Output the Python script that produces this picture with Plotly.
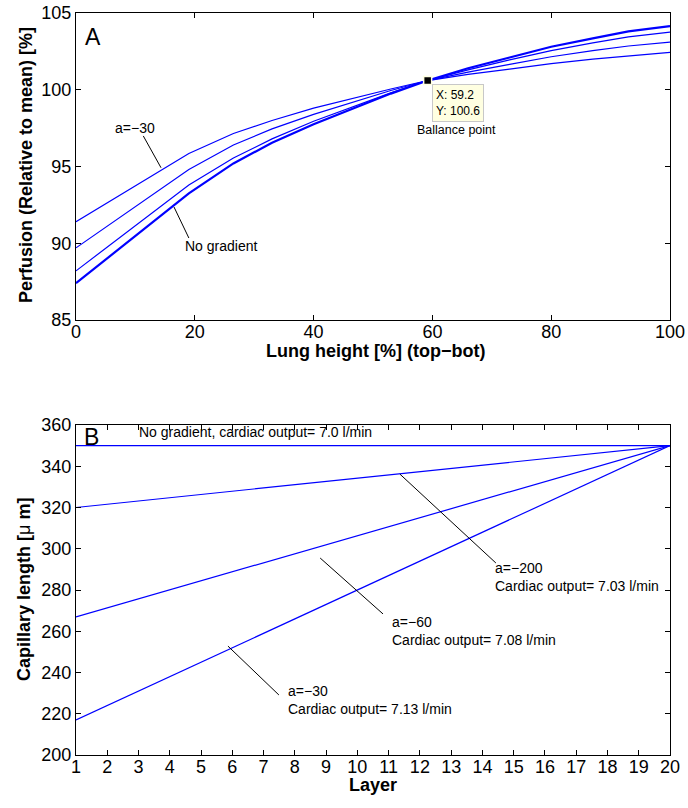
import plotly.graph_objects as go

# ---------------- data ----------------
# Panel A: perfusion vs lung height
height_pct = [0, 19, 26.5, 33, 40, 47, 53, 59.2, 66, 73, 80, 87, 93, 100]
perf_a30 = [91.4, 95.85, 97.15, 98.0, 98.8, 99.5, 100.05, 100.6, 101.0, 101.35, 101.7, 102.0, 102.22, 102.44]
perf_a60 = [89.7, 94.8, 96.4, 97.45, 98.4, 99.25, 99.95, 100.6, 101.15, 101.65, 102.15, 102.55, 102.85, 103.1]
perf_a200 = [88.2, 93.8, 95.55, 96.8, 97.95, 98.95, 99.8, 100.6, 101.3, 101.95, 102.55, 103.05, 103.45, 103.75]
perf_nograd = [87.4, 93.25, 95.2, 96.55, 97.75, 98.85, 99.75, 100.6, 101.4, 102.1, 102.8, 103.35, 103.8, 104.15]
balance_x = [59.2]
balance_y = [100.6]

# Panel B: capillary length vs layer
layer_ends = [1, 20]
cap_nograd = [350, 350]
cap_a200 = [320, 350]
cap_a60 = [267, 350]
cap_a30 = [217, 350]

xticks_a = [0, 20, 40, 60, 80, 100]
yticks_a = [85, 90, 95, 100, 105]
xticks_b = list(range(1, 21))
yticks_b = [200, 220, 240, 260, 280, 300, 320, 340, 360]

FONT = "Liberation Sans, Arial, Helvetica, sans-serif"
BLUE = "#0000ff"

fig = go.Figure()

for ys, w in [(perf_a30, 1.2), (perf_a60, 1.2), (perf_a200, 1.2), (perf_nograd, 2.2)]:
    fig.add_trace(go.Scatter(x=height_pct, y=ys, mode="lines",
                             line=dict(color=BLUE, width=w),
                             xaxis="x", yaxis="y", showlegend=False, hoverinfo="skip"))

fig.add_trace(go.Scatter(x=balance_x, y=balance_y, mode="markers",
                         marker=dict(symbol="square", size=8, color="black",
                                     line=dict(color="#ffffe1", width=1.5)),
                         xaxis="x", yaxis="y", showlegend=False, hoverinfo="skip"))

for ys in [cap_nograd, cap_a200, cap_a60, cap_a30]:
    fig.add_trace(go.Scatter(x=layer_ends, y=ys, mode="lines",
                             line=dict(color=BLUE, width=1.2),
                             xaxis="x2", yaxis="y2", showlegend=False, hoverinfo="skip"))

axis_common = dict(showgrid=False, zeroline=False, showline=True, linecolor="black",
                   linewidth=1, mirror="ticks", ticks="inside", ticklen=5,
                   tickcolor="black", tickwidth=1, automargin=False,
                   tickfont=dict(family=FONT, size=18, color="black"))

X0, X1 = 76 / 688, 670 / 688
fig.update_layout(
    template="none",
    width=688, height=808,
    margin=dict(l=0, r=0, t=0, b=0, autoexpand=False),
    paper_bgcolor="white", plot_bgcolor="white",
    font=dict(family=FONT, color="black"),
    xaxis=dict(domain=[X0, X1], range=[0, 100], tickvals=xticks_a, anchor="y",
               ticklabelstandoff=-5, **axis_common),
    yaxis=dict(domain=[1 - 320 / 808, 1 - 13 / 808], range=[85, 105], tickvals=yticks_a,
               anchor="x", **axis_common),
    xaxis2=dict(domain=[X0, X1], range=[1, 20], tickvals=xticks_b, anchor="y2",
                ticklabelstandoff=-5, **axis_common),
    yaxis2=dict(domain=[1 - 755 / 808, 1 - 425 / 808], range=[200, 360], tickvals=yticks_b,
                anchor="x2", **axis_common),
)


def paper_text(text, px, py, size, angle=0):
    return dict(text=text, xref="paper", yref="paper", x=px / 688, y=1 - py / 808,
                xanchor="center", yanchor="middle", textangle=angle, showarrow=False,
                font=dict(size=size, family=FONT))


ann = []
# axis titles
ann.append(paper_text("<b>Lung height [%] (top−bot)</b>", 375, 351, 18))
ann.append(paper_text("<b>Perfusion (Relative to mean) [%]</b>", 26, 165, 18, -90))
ann.append(paper_text("<b>Layer</b>", 373, 785, 18))
ann.append(paper_text("<b>Capillary length [</b>μ<b> m]</b>", 24, 590, 18, -90))
# panel letters
ann.append(paper_text("A", 93, 37, 23))
ann.append(paper_text("B", 91, 437, 23))
# panel A labels
ann.append(dict(text="a=−30", xref="x", yref="y", x=9.9, y=97.5, showarrow=False,
                xanchor="center", yanchor="middle", font=dict(size=14, family=FONT)))
ann.append(dict(text="No gradient", xref="x", yref="y", x=24.4, y=89.8, showarrow=False,
                xanchor="center", yanchor="middle", font=dict(size=14, family=FONT)))
ann.append(dict(text=f"X: {balance_x[0]}<br>Y: {balance_y[0]}", xref="x", yref="y",
                x=59.9, y=100.37, xanchor="left", yanchor="top", align="left",
                showarrow=False, bgcolor="#ffffe1", bordercolor="#c8c8c8", borderwidth=1,
                borderpad=3, font=dict(size=12, family=FONT)))
ann.append(dict(text="Ballance point", xref="x", yref="y", x=64.1, y=97.38, showarrow=False,
                xanchor="center", yanchor="middle", font=dict(size=12.5, family=FONT)))
# panel B labels
ann.append(dict(text="No gradient, cardiac output= 7.0 l/min", xref="x2", yref="y2",
                x=2.95, y=356.6, xanchor="left", yanchor="middle", showarrow=False,
                font=dict(size=14, family=FONT)))
ann.append(dict(text="a=−200<br>Cardiac output= 7.03 l/min", xref="x2", yref="y2",
                x=14.34, y=286.3, xanchor="left", yanchor="middle", align="left",
                showarrow=False, font=dict(size=14, family=FONT)))
ann.append(dict(text="a=−60<br>Cardiac output= 7.08 l/min", xref="x2", yref="y2",
                x=11.04, y=259.9, xanchor="left", yanchor="middle", align="left",
                showarrow=False, font=dict(size=14, family=FONT)))
ann.append(dict(text="a=−30<br>Cardiac output= 7.13 l/min", xref="x2", yref="y2",
                x=7.72, y=226.6, xanchor="left", yanchor="middle", align="left",
                showarrow=False, font=dict(size=14, family=FONT)))
fig.update_layout(annotations=ann)

# leader lines
leaders = [
    ("x", "y", 11.33, 96.99, 14.31, 94.92),
    ("x", "y", 16.5, 92.36, 19.0, 90.34),
    ("x2", "y2", 11.36, 336.2, 14.43, 293.1),
    ("x2", "y2", 8.81, 295.5, 10.82, 268.4),
    ("x2", "y2", 5.86, 252.8, 7.49, 229.1),
]
fig.update_layout(shapes=[dict(type="line", xref=xr, yref=yr, x0=a, y0=b, x1=c, y1=d,
                               line=dict(color="black", width=1))
                          for xr, yr, a, b, c, d in leaders])

fig.write_html("out.html")
